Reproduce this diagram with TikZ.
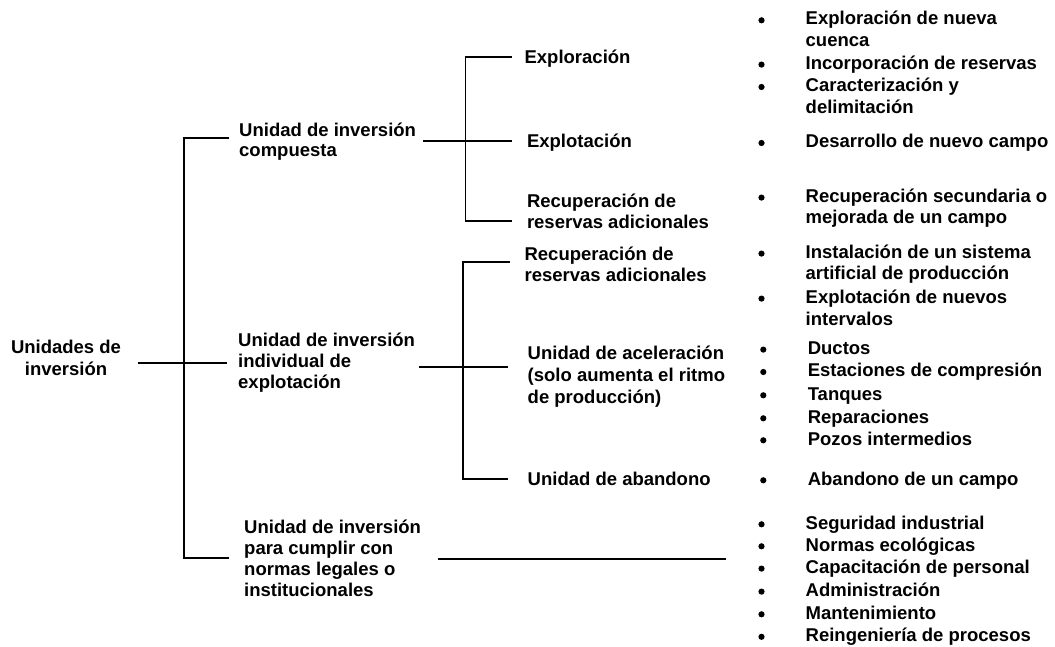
\documentclass[tikz,border=0pt]{standalone}
\usepackage{fontspec}
\setmainfont{Liberation Sans}
\newcommand{\mlines}[2]{{\fontsize{18.5}{#1}\selectfont\begin{tabular}[t]{@{}l@{}}#2\end{tabular}}}
\newcommand{\clines}[2]{{\fontsize{18.5}{#1}\selectfont\begin{tabular}[t]{@{}c@{}}#2\end{tabular}}}
\begin{document}
\begin{tikzpicture}[x=1pt,y=-1pt,
  lbl/.style={anchor=base west,inner sep=0pt,font=\fontsize{18.5}{21}\selectfont\bfseries},
  clbl/.style={anchor=base,inner sep=0pt,font=\fontsize{18.5}{21}\selectfont\bfseries},
  dot/.style={circle,fill=black,inner sep=0pt,minimum size=6.2pt},
  conn/.style={draw=black,line width=1.9pt}]
\useasboundingbox (0,0) rectangle (1055,647);
\fill[white] (0,0) rectangle (1055,647);

% level 0
\node[clbl] (root) at (66,353.3) {\clines{21.7}{Unidades de\\inversi\'on}};
% level 1
\node[lbl] (cmp) at (239,137) {\mlines{20}{Unidad de inversi\'on\\compuesta}};
\node[lbl] (ind) at (238,346) {\mlines{21}{Unidad de inversi\'on\\individual de\\explotaci\'on}};
\node[lbl] (nrm) at (244,533.3) {\mlines{21}{Unidad de inversi\'on\\para cumplir con\\normas legales o\\institucionales}};
% level 2
\node[lbl] (xpr) at (524.4,63.3) {Exploraci\'on};
\node[lbl] (xpl) at (526.8,147.7) {Explotaci\'on};
\node[lbl] (rc1) at (526.8,207.3) {\mlines{21}{Recuperaci\'on de\\reservas adicionales}};
\node[lbl] (rc2) at (524.4,261) {\mlines{20.7}{Recuperaci\'on de\\reservas adicionales}};
\node[lbl] (acc) at (527.5,359.3) {\mlines{22}{Unidad de aceleraci\'on\\(solo aumenta el ritmo\\de producci\'on)}};
\node[lbl] (aba) at (527.5,485) {Unidad de abandono};

% bullet items, group 1
\node[lbl] (i1) at (805.5,25) {\mlines{21.7}{Exploraci\'on de nueva\\cuenca}};
\node[lbl] (i2) at (805.5,69.3) {Incorporaci\'on de reservas};
\node[lbl] (i3) at (805.5,91.7) {\mlines{21.7}{Caracterizaci\'on y\\delimitaci\'on}};
\node[lbl] (i4) at (805.5,147.7) {Desarrollo de nuevo campo};
\node[lbl] (i5) at (805.5,202.3) {\mlines{21.7}{Recuperaci\'on secundaria o\\mejorada de un campo}};
\node[lbl] (i6) at (805.5,258.3) {\mlines{21.7}{Instalaci\'on de un sistema\\artificial de producci\'on}};
\node[lbl] (i7) at (805.5,303.3) {\mlines{21.7}{Explotaci\'on de nuevos\\intervalos}};
% group 2
\node[lbl] (j1) at (807.6,354.3) {Ductos};
\node[lbl] (j2) at (807.6,376.7) {Estaciones de compresi\'on};
\node[lbl] (j3) at (807.6,400) {Tanques};
\node[lbl] (j4) at (807.6,423) {Reparaciones};
\node[lbl] (j5) at (807.6,445) {Pozos intermedios};
\node[lbl] (j6) at (807.6,485) {Abandono de un campo};
% group 3
\node[lbl] (k1) at (805.5,529) {Seguridad industrial};
\node[lbl] (k2) at (805.5,551) {Normas ecol\'ogicas};
\node[lbl] (k3) at (805.5,573.3) {Capacitaci\'on de personal};
\node[lbl] (k4) at (805.5,596.3) {Administraci\'on};
\node[lbl] (k5) at (805.5,619) {Mantenimiento};
\node[lbl] (k6) at (805.5,641.5) {Reingenier\'ia de procesos};

% bullets
\foreach \n/\y in {b1/20.3,b2/64.6,b3/87,b4/143,b5/197.6,b6/253.6,b7/298.6,
                   c1/524.3,c2/546.3,c3/568.6,c4/591.6,c5/614.3,c6/636.8}
  \node[dot] (\n) at (761.5,\y) {};
\foreach \n/\y in {d1/349.6,d2/372,d3/395.3,d4/418.3,d5/440.3,d6/480.3}
  \node[dot] (\n) at (763.3,\y) {};

% connector coordinates
\coordinate (r-out) at (137.9,363.3);
\coordinate (ind-in) at (226.8,363.3);
\coordinate (cmp-in) at (228.9,137.7);
\coordinate (nrm-in) at (228.9,557.7);
\coordinate (bus0) at (184.2,0);

\coordinate (cmp-out) at (423.3,140.7);
\coordinate (xpl-in) at (512.2,140.7);
\coordinate (xpr-in) at (512.2,57);
\coordinate (rc1-in) at (512.2,220.7);
\coordinate (bus1) at (465.5,0);

\coordinate (ind-out) at (419.2,366.7);
\coordinate (acc-in) at (508.1,366.7);
\coordinate (rc2-in) at (510,262.3);
\coordinate (aba-in) at (508.1,479.3);
\coordinate (bus2) at (463.2,0);

\coordinate (nrm-out) at (437.5,558.7);
\coordinate (lst-in) at (726.4,558.7);

% connectors
\draw[conn] (r-out) -- (ind-in);
\draw[conn] (cmp-in) -- (cmp-in -| bus0) -- (nrm-in -| bus0) -- (nrm-in);
\draw[conn] (cmp-out) -- (xpl-in);
\draw[conn] (xpr-in) -- (xpr-in -| bus1) -- (rc1-in -| bus1) -- (rc1-in);
\draw[conn] (ind-out) -- (acc-in);
\draw[conn] (rc2-in) -- (rc2-in -| bus2) -- (aba-in -| bus2) -- (aba-in);
\draw[conn] (nrm-out) -- (lst-in);
\end{tikzpicture}
\end{document}
